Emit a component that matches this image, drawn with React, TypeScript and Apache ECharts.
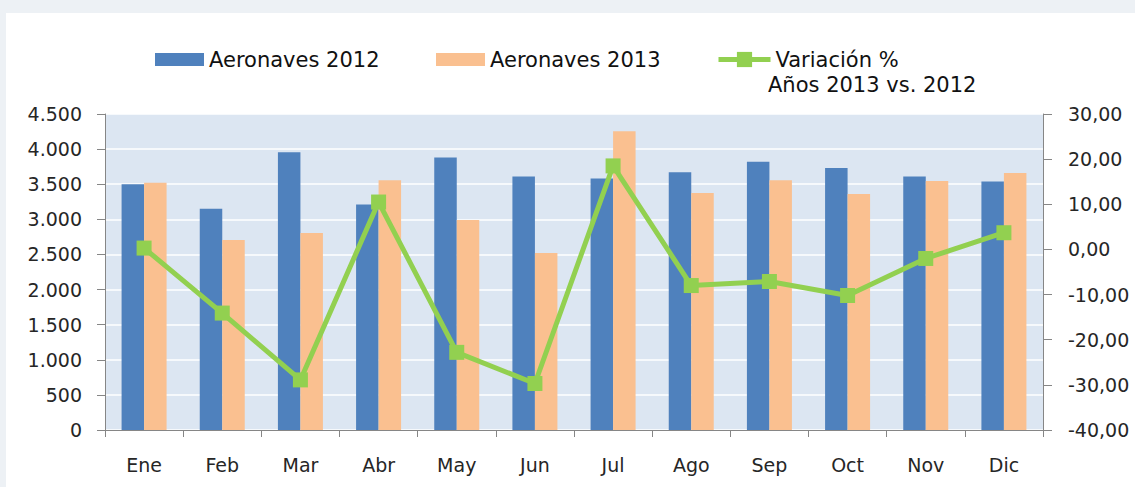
import React, { useEffect, useRef } from "react";
import * as echarts from "echarts";

const months = ["Ene", "Feb", "Mar", "Abr", "May", "Jun", "Jul", "Ago", "Sep", "Oct", "Nov", "Dic"];
const aeronaves2012 = [3500, 3150, 3955, 3210, 3880, 3610, 3580, 3670, 3820, 3730, 3610, 3540];
const aeronaves2013 = [3520, 2705, 2805, 3555, 2990, 2520, 4255, 3375, 3555, 3360, 3545, 3660];
const variacion = [0.3, -14.1, -28.9, 10.5, -22.8, -29.7, 18.5, -8.0, -7.1, -10.2, -2.0, 3.7];

const name2012 = "Aeronaves 2012";
const name2013 = "Aeronaves 2013";
const nameVar = "Variación %";
const legendSecondLine = "Años 2013 vs. 2012";

const leftFmt = (v: number) =>
  v >= 1000 ? `${Math.floor(v / 1000)}.${String(v % 1000).padStart(3, "0")}` : String(v);
const rightFmt = (v: number) => v.toFixed(2).replace(".", ",");

const AXIS_FONT = "DejaVu Sans";
const LEGEND_FONT = "DejaVu Sans";

export default function App() {
  const ref = useRef<HTMLDivElement>(null);
  useEffect(() => {
    if (!ref.current) return;
    const chart = echarts.init(ref.current, undefined, { renderer: "svg" });
    const legendText = { fontFamily: LEGEND_FONT, fontSize: 21, color: "#111" };
    chart.setOption({
      animation: false,
      backgroundColor: "transparent",
      grid: {
        left: 105,
        right: 92,
        top: 114,
        bottom: 57,
        show: true,
        backgroundColor: "#dce6f2",
        borderWidth: 0,
      },
      legend: [
        {
          data: [{ name: name2012, icon: "rect" }],
          left: 150,
          top: 44,
          itemWidth: 49,
          itemHeight: 13,
          textStyle: legendText,
        },
        {
          data: [{ name: name2013, icon: "rect" }],
          left: 431,
          top: 44,
          itemWidth: 49,
          itemHeight: 13,
          textStyle: legendText,
        },
        {
          data: [nameVar],
          left: 711,
          top: 44,
          itemWidth: 52,
          itemHeight: 19,
          lineStyle: { width: 5 },
          textStyle: legendText,
        },
      ],
      graphic: [
        {
          type: "text",
          left: 768,
          top: 74,
          style: { text: legendSecondLine, fill: "#111", font: `21px '${LEGEND_FONT}'` },
        },
      ],
      xAxis: {
        type: "category",
        data: months,
        boundaryGap: true,
        axisLine: { show: true, lineStyle: { color: "#868686", width: 1 } },
        axisTick: { show: true, length: 7, lineStyle: { color: "#868686" } },
        axisLabel: { margin: 25, fontFamily: AXIS_FONT, fontSize: 19, color: "#262626" },
        splitLine: { show: false },
      },
      yAxis: [
        {
          type: "value",
          min: 0,
          max: 4500,
          interval: 500,
          position: "left",
          axisLine: { show: true, lineStyle: { color: "#868686", width: 1 } },
          axisTick: { show: true, length: 8, lineStyle: { color: "#868686" } },
          axisLabel: {
            margin: 23,
            fontFamily: AXIS_FONT,
            fontSize: 19,
            color: "#262626",
            formatter: leftFmt,
          },
          splitLine: { show: true, lineStyle: { color: "#ffffff", width: 1.5 } },
        },
        {
          type: "value",
          min: -40,
          max: 30,
          interval: 10,
          position: "right",
          axisLine: { show: true, lineStyle: { color: "#868686", width: 1 } },
          axisTick: { show: true, length: 9, lineStyle: { color: "#868686" } },
          axisLabel: {
            margin: 25,
            fontFamily: AXIS_FONT,
            fontSize: 19,
            color: "#262626",
            formatter: rightFmt,
          },
          splitLine: { show: false },
        },
      ],
      series: [
        {
          name: name2012,
          type: "bar",
          data: aeronaves2012,
          barWidth: 22.5,
          barGap: "0%",
          itemStyle: { color: "#4f81bd" },
          z: 2,
        },
        {
          name: name2013,
          type: "bar",
          data: aeronaves2013,
          barWidth: 22.5,
          barGap: "0%",
          itemStyle: { color: "#fac090" },
          z: 2,
        },
        {
          name: nameVar,
          type: "line",
          yAxisIndex: 1,
          data: variacion,
          symbol: "rect",
          symbolSize: 15,
          lineStyle: { color: "#92d050", width: 5 },
          itemStyle: { color: "#92d050" },
          z: 5,
        },
      ],
    });
    return () => chart.dispose();
  }, []);

  return (
    <div style={{ position: "absolute", left: 0, top: 0, width: 1135, height: 487, background: "#edf1f5" }}>
      <div style={{ position: "absolute", left: 6, top: 13, width: 1129, height: 474, background: "#ffffff" }} />
      <div ref={ref} style={{ position: "absolute", left: 0, top: 0, width: 1135, height: 487 }} />
    </div>
  );
}
